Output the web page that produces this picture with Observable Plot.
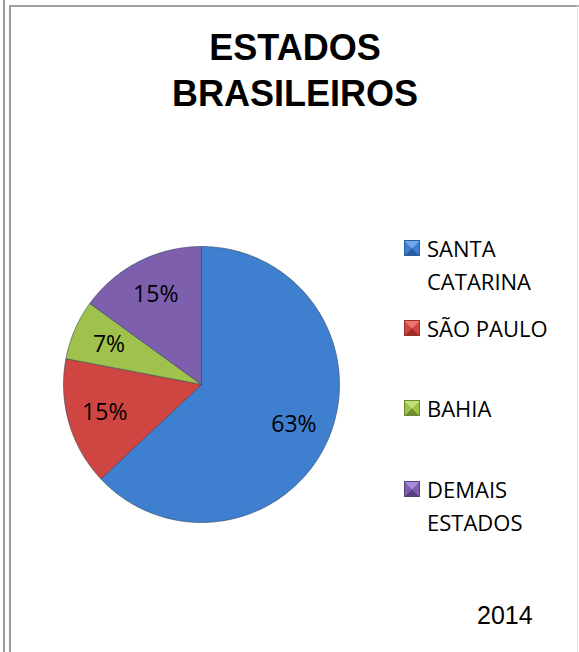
<!DOCTYPE html>
<html>
<head>
<meta charset="utf-8">
<script src="https://cdn.jsdelivr.net/npm/d3@7"></script>
<script src="https://cdn.jsdelivr.net/npm/@observablehq/plot@0.6"></script>
<style>
  html, body { margin: 0; padding: 0; background: #fff; }
  #wrap { position: relative; width: 579px; height: 652px; overflow: hidden; background: #fff; }
  #wrap svg { position: absolute; left: 0; top: 0; }
  .line { position: absolute; background: #a6a6a6; }
  #title { position: absolute; left: 95px; width: 400px; top: 25px; text-align: center;
    font-family: "Liberation Sans", Arial, sans-serif; font-weight: bold; font-size: 36px; line-height: 46px; color: #000; }
  .leg { position: absolute; left: 427px; font-family: "Open Sans", sans-serif; font-size: 22px; line-height: 33px; color: #000; white-space: nowrap; }
  .mk { position: absolute; left: 404px; width: 16px; height: 16px; box-sizing: border-box; }
  #year { position: absolute; left: 477px; top: 600px; font-family: "Liberation Sans", Arial, sans-serif; font-size: 25px; line-height: 30px; color: #000; }
</style>
</head>
<body>
<div id="wrap"></div>
<script>
const categories = ["SANTA CATARINA", "SÃO PAULO", "BAHIA", "DEMAIS ESTADOS"];
const legendLines = [["SANTA", "CATARINA"], ["SÃO PAULO"], ["BAHIA"], ["DEMAIS", "ESTADOS"]];
const values = [63, 15, 7, 15];
const colors = ["#3f7fcf", "#cf4541", "#9fc24c", "#7d5fae"];
const lights = ["#6fa6e8", "#ee7470", "#c4e07a", "#a88ad6"];
const darks = ["#2a5d9e", "#9b2e2b", "#6f8c30", "#55407e"];
const legendTops = [232, 312, 392, 473];
const title = ["ESTADOS", "BRASILEIROS"];
const year = "2014";

const wrap = document.getElementById("wrap");

// pie geometry from data
const pie = d3.pie().sort(null).value(d => d.value).startAngle(0).endAngle(2 * Math.PI);
const rows = categories.map((name, i) => ({name, value: values[i]}));
const arcs = pie(rows);
const poly = [];
const labels = [];
arcs.forEach(a => {
  const n = Math.max(8, Math.ceil((a.endAngle - a.startAngle) * 60));
  poly.push({name: a.data.name, x: 0, y: 0});
  for (let k = 0; k <= n; k++) {
    const t = a.startAngle + (a.endAngle - a.startAngle) * k / n;
    poly.push({name: a.data.name, x: Math.sin(t), y: Math.cos(t)});
  }
  poly.push({name: a.data.name, x: 0, y: 0});
  const m = (a.startAngle + a.endAngle) / 2;
  labels.push({name: a.data.name, x: 0.73 * Math.sin(m), y: 0.73 * Math.cos(m), text: a.data.value + "%"});
});

const chart = Plot.plot({
  width: 579,
  height: 652,
  marginLeft: 63,
  marginRight: 240,
  marginTop: 246,
  marginBottom: 130,
  x: {domain: [-1, 1], axis: null},
  y: {domain: [-1, 1], axis: null},
  color: {domain: categories, range: colors},
  style: {background: "transparent", overflow: "visible"},
  marks: [
    Plot.line(poly, {x: "x", y: "y", z: "name", fill: "name", stroke: "#2b3f55", strokeOpacity: 0.55, strokeWidth: 1, curve: "linear"}),
    Plot.text(labels, {x: "x", y: "y", text: "text", fontSize: 23, fontFamily: "Open Sans", fill: "#000"})
  ]
});
wrap.appendChild(chart);

// frame lines
function line(l, t, w, h, c) {
  const d = document.createElement("div");
  d.className = "line";
  Object.assign(d.style, {left: l + "px", top: t + "px", width: w + "px", height: h + "px"});
  if (c) d.style.background = c;
  wrap.appendChild(d);
}
line(3, 0, 2, 652, "#9a9a9a");
line(9, 5, 2, 647, "#9a9a9a");
line(9, 5, 570, 2, "#a0a0a0");
line(577, 5, 1, 647, "#e4e4e4");

// title
const t = document.createElement("div");
t.id = "title";
t.innerHTML = title.join("<br>");
wrap.appendChild(t);

// legend
categories.forEach((c, i) => {
  const m = document.createElement("div");
  m.className = "mk";
  m.style.top = (legendTops[i] + 8) + "px";
  m.style.background = `conic-gradient(from -45deg, ${lights[i]} 0deg 90deg, ${colors[i]} 90deg 180deg, ${darks[i]} 180deg 270deg, ${colors[i]} 270deg 360deg)`;
  m.style.border = `1px solid ${darks[i]}`;
  wrap.appendChild(m);
  const l = document.createElement("div");
  l.className = "leg";
  l.style.top = legendTops[i] + "px";
  l.innerHTML = legendLines[i].join("<br>");
  wrap.appendChild(l);
});

const y = document.createElement("div");
y.id = "year";
y.textContent = year;
wrap.appendChild(y);
</script>
</body>
</html>
